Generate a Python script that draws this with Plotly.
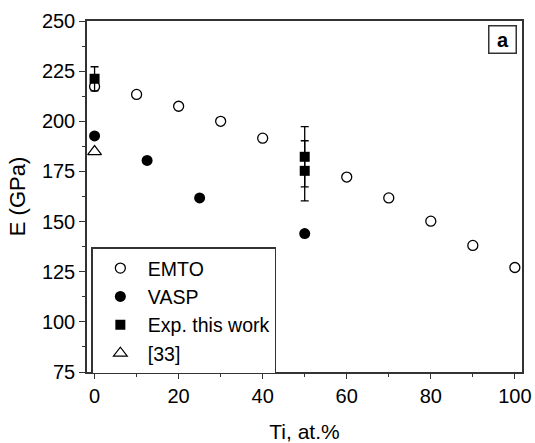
import plotly.graph_objects as go

# Data
emto_x = [0, 10, 20, 30, 40, 60, 70, 80, 90, 100]
emto_y = [217.4, 213.4, 207.5, 200.0, 191.6, 172.2, 161.8, 150.2, 138.1, 127.1]

vasp_x = [0, 12.5, 25, 50]
vasp_y = [192.7, 180.5, 161.8, 144.0]

exp_x = [0, 50, 50]
exp_y = [221.2, 182.3, 175.3]
exp_err = [6.0, 15.0, 15.0]

ref33_x = [0]
ref33_y = [184.9]

x_ticks = [0, 20, 40, 60, 80, 100]
y_ticks = [75, 100, 125, 150, 175, 200, 225, 250]

FONT = "Liberation Sans"
INK = "#000000"
AXC = "#333333"

fig = go.Figure()
fig.add_trace(go.Scatter(
    x=emto_x, y=emto_y, mode="markers", name="EMTO",
    marker=dict(symbol="circle-open", size=10, color=INK, line=dict(width=1.3, color=INK)),
))
fig.add_trace(go.Scatter(
    x=vasp_x, y=vasp_y, mode="markers", name="VASP",
    marker=dict(symbol="circle", size=11, color=INK),
))
fig.add_trace(go.Scatter(
    x=exp_x, y=exp_y, mode="markers", name="Exp. this work",
    marker=dict(symbol="square", size=10, color=INK),
    error_y=dict(type="data", array=exp_err, visible=True, color=INK, thickness=1.3, width=4),
))
fig.add_trace(go.Scatter(
    x=ref33_x, y=ref33_y, mode="markers", name="[33]",
    marker=dict(symbol="triangle-up-open", size=12, color=INK, line=dict(width=1.2, color=INK)),
))

fig.update_layout(
    width=535, height=443,
    margin=dict(l=87, r=13, t=21, b=71),
    paper_bgcolor="white", plot_bgcolor="white",
    font=dict(family=FONT, size=20, color=INK),
    showlegend=True,
    legend=dict(
        x=0.01, y=0.355, xanchor="left", yanchor="top",
        bordercolor=AXC, borderwidth=1.5, bgcolor="white",
        font=dict(family=FONT, size=19.5, color=INK),
        itemwidth=45, tracegroupgap=0,
        entrywidth=195, entrywidthmode="pixels",
    ),
    annotations=[dict(
        x=0.988, y=0.988, xref="paper", yref="paper", xanchor="right", yanchor="top",
        text="&nbsp;<b>a</b>&nbsp;", showarrow=False,
        font=dict(family=FONT, size=20, color=INK, weight="bold"),
        bordercolor=AXC, borderwidth=1.5, borderpad=2, bgcolor="white",
    )],
)

fig.update_xaxes(
    automargin=False,
    range=[-1.8, 101.7], tickvals=x_ticks, ticks="outside", ticklen=5, tickwidth=1.3,
    tickcolor=AXC, showline=True, linecolor=AXC, linewidth=1.5, mirror=True,
    showgrid=False, zeroline=False,
    minor=dict(dtick=10, tick0=0, ticks="outside", ticklen=3, tickwidth=1.3, tickcolor=AXC),
    title=dict(text="Ti, at.%", font=dict(family=FONT, size=21, color=INK), standoff=20),
    tickfont=dict(family=FONT, size=20, color=INK),
)
fig.update_yaxes(
    automargin=False,
    range=[75, 250], tickvals=y_ticks, ticks="outside", ticklen=6, tickwidth=1.3,
    tickcolor=AXC, showline=True, linecolor=AXC, linewidth=1.5, mirror=True,
    showgrid=False, zeroline=False,
    minor=dict(dtick=12.5, tick0=75, ticks="outside", ticklen=3, tickwidth=1.3, tickcolor=AXC),
    title=dict(text="E (GPa)", font=dict(family=FONT, size=22, color=INK), standoff=10),
    tickfont=dict(family=FONT, size=20, color=INK),
)

fig.write_html("out.html")
